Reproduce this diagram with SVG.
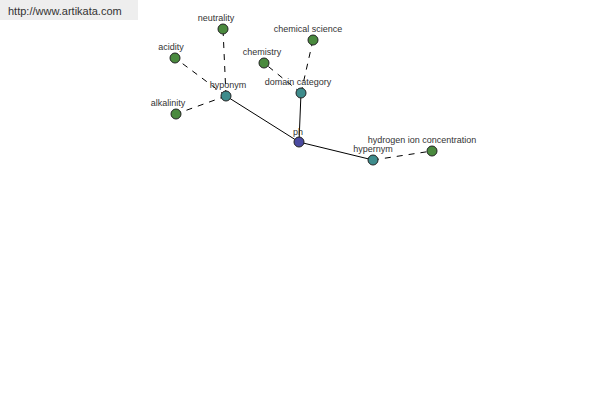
<svg xmlns="http://www.w3.org/2000/svg" width="600" height="400" viewBox="0 0 600 400">
<style>
.lbl{font-family:"Liberation Sans",Arial,sans-serif;font-size:9px;fill:#333;text-anchor:middle}
.e{stroke:#000;stroke-width:1;fill:none}
.d{stroke-dasharray:6,6}
.n{stroke:#222;stroke-width:1}
.g{fill:#4a8a3e}
.t{fill:#3e8c8c}
.b{fill:#4a4aa0}
</style>
<rect x="0" y="0" width="138" height="20" fill="#eeeeee"/>
<text x="8" y="15" style="font-family:'Liberation Sans',Arial,sans-serif;font-size:11px;fill:#333">http://www.artikata.com</text>
<g id="connectors">
<line class="e" x1="299" y1="142" x2="226" y2="96"/>
<line class="e" x1="299" y1="142" x2="301" y2="93"/>
<line class="e" x1="299" y1="142" x2="373" y2="160"/>
<line class="e d" x1="226" y1="96" x2="223" y2="29"/>
<line class="e d" x1="226" y1="96" x2="175" y2="58"/>
<line class="e d" x1="226" y1="96" x2="176" y2="114"/>
<line class="e d" x1="301" y1="93" x2="264" y2="63"/>
<line class="e d" x1="301" y1="93" x2="313" y2="40"/>
<line class="e d" x1="373" y1="160" x2="432" y2="151"/>
</g>
<g id="ph"><circle class="n b" cx="299" cy="142" r="5"/><text class="lbl" x="298" y="135">ph</text></g>
<g id="hyponym"><circle class="n t" cx="226" cy="96" r="5"/><text class="lbl" x="228" y="88">hyponym</text></g>
<g id="domain-category"><circle class="n t" cx="301" cy="93" r="5"/><text class="lbl" x="298" y="85">domain category</text></g>
<g id="hypernym"><circle class="n t" cx="373" cy="160" r="5"/><text class="lbl" x="373" y="152">hypernym</text></g>
<g id="neutrality"><circle class="n g" cx="223" cy="29" r="5"/><text class="lbl" x="216" y="21">neutrality</text></g>
<g id="acidity"><circle class="n g" cx="175" cy="58" r="5"/><text class="lbl" x="171" y="50">acidity</text></g>
<g id="alkalinity"><circle class="n g" cx="176" cy="114" r="5"/><text class="lbl" x="168" y="106">alkalinity</text></g>
<g id="chemistry"><circle class="n g" cx="264" cy="63" r="5"/><text class="lbl" x="262" y="55">chemistry</text></g>
<g id="chemical-science"><circle class="n g" cx="313" cy="40" r="5"/><text class="lbl" x="308" y="32">chemical science</text></g>
<g id="hydrogen-ion-concentration"><circle class="n g" cx="432" cy="151" r="5"/><text class="lbl" x="422" y="143">hydrogen ion concentration</text></g>
</svg>
